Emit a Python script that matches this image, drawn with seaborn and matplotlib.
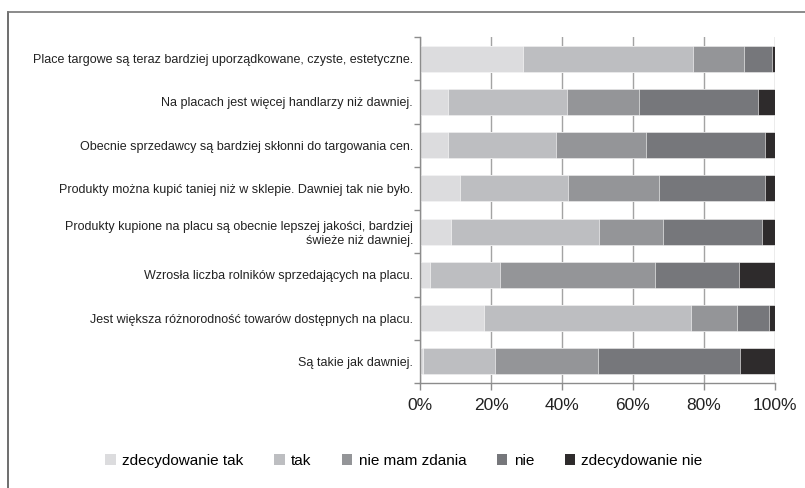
import numpy as np
import pandas as pd
import matplotlib
matplotlib.use("Agg")
import matplotlib.pyplot as plt
from matplotlib.patches import Patch
from matplotlib.lines import Line2D
import seaborn as sns

categories = [
    "Place targowe są teraz bardziej uporządkowane, czyste, estetyczne.",
    "Na placach jest więcej handlarzy niż dawniej.",
    "Obecnie sprzedawcy są bardziej skłonni do targowania cen.",
    "Produkty można kupić taniej niż w sklepie. Dawniej tak nie było.",
    "Produkty kupione na placu są obecnie lepszej jakości, bardziej\nświeże niż dawniej.",
    "Wzrosła liczba rolników sprzedających na placu.",
    "Jest większa różnorodność towarów dostępnych na placu.",
    "Są takie jak dawniej.",
]
series_names = ["zdecydowanie tak", "tak", "nie mam zdania", "nie", "zdecydowanie nie"]
zdecydowanie_tak = [29.0, 8.0, 8.0, 11.2, 8.8, 2.9, 17.9, 0.9]
tak = [48.0, 33.5, 30.4, 30.6, 41.7, 19.5, 58.3, 20.1]
nie_mam_zdania = [14.2, 20.3, 25.4, 25.6, 17.9, 43.9, 13.0, 29.0]
nie = [7.9, 33.3, 33.3, 29.7, 27.8, 23.6, 9.0, 40.1]
zdecydowanie_nie = [0.9, 4.9, 2.9, 2.9, 3.8, 10.1, 1.8, 9.9]
tick_vals = [0, 20, 40, 60, 80, 100]
tick_labels = ["0%", "20%", "40%", "60%", "80%", "100%"]

colors = ["#dcdcde", "#bdbec1", "#949598", "#76777b", "#2e2b2c"]

plt.rcParams['font.family'] = ['Liberation Sans', 'DejaVu Sans']

df = pd.DataFrame({
    "category": categories,
    series_names[0]: zdecydowanie_tak,
    series_names[1]: tak,
    series_names[2]: nie_mam_zdania,
    series_names[3]: nie,
    series_names[4]: zdecydowanie_nie,
})
cum = df[series_names].cumsum(axis=1)

fig = plt.figure(figsize=(8.05, 4.88), dpi=100)
W, H = 805, 488
ax = fig.add_axes([420 / W, 1 - 383 / H, 355 / W, 346 / H])

# vertical gridlines behind bars
ax.set_axisbelow(True)
ax.xaxis.grid(True, color="#a3a3a3", linewidth=1.0)

for i in range(len(series_names) - 1, -1, -1):
    name = series_names[i]
    plot_df = pd.DataFrame({"category": categories, "value": cum[name].values})
    sns.barplot(data=plot_df, x="value", y="category", orient="h", color=colors[i],
                width=0.6, ax=ax, saturation=1, edgecolor="white", linewidth=0.4)

ax.set_xlim(0, 100)
ax.set_ylim(len(categories) - 0.5, -0.5)
ax.set_xticks(tick_vals)
ax.set_xticklabels(tick_labels, fontsize=12.5, color="#222222")
ax.set_xlabel("")
ax.set_ylabel("")
ax.set_yticks(range(len(categories)))
ax.set_yticklabels(categories, fontsize=9, color="#222222", ha="right")
ax.tick_params(axis="y", which="major", length=0, pad=5)
ax.set_yticks(np.arange(-0.5, len(categories), 1.0), minor=True)
ax.tick_params(axis="y", which="minor", length=4, color="#8c8c8c", width=1)
ax.tick_params(axis="x", length=5, color="#8c8c8c", width=1, pad=6)
for lab in ax.get_yticklabels():
    lab.set_multialignment("right")

for s in ["top", "right"]:
    ax.spines[s].set_visible(False)
for s in ["left", "bottom"]:
    ax.spines[s].set_color("#8c8c8c")
    ax.spines[s].set_linewidth(1.0)

handles = [Patch(facecolor=c, edgecolor="none", label=n) for c, n in zip(colors, series_names)]
fig.legend(handles=handles, loc="center", bbox_to_anchor=(404 / W, 1 - 461 / H), ncol=5,
           frameon=False, fontsize=11, handlelength=0.7, handleheight=0.7,
           handletextpad=0.4, columnspacing=2.0)

# outer frame (top and left edges visible)
fig.add_artist(Line2D([8 / W, 8 / W], [0, 1 - 12 / H], transform=fig.transFigure,
                      color="#555555", linewidth=1.2))
fig.add_artist(Line2D([8 / W, 1], [1 - 12 / H, 1 - 12 / H], transform=fig.transFigure,
                      color="#777777", linewidth=1.2))

fig.savefig("out.png", dpi=100)
